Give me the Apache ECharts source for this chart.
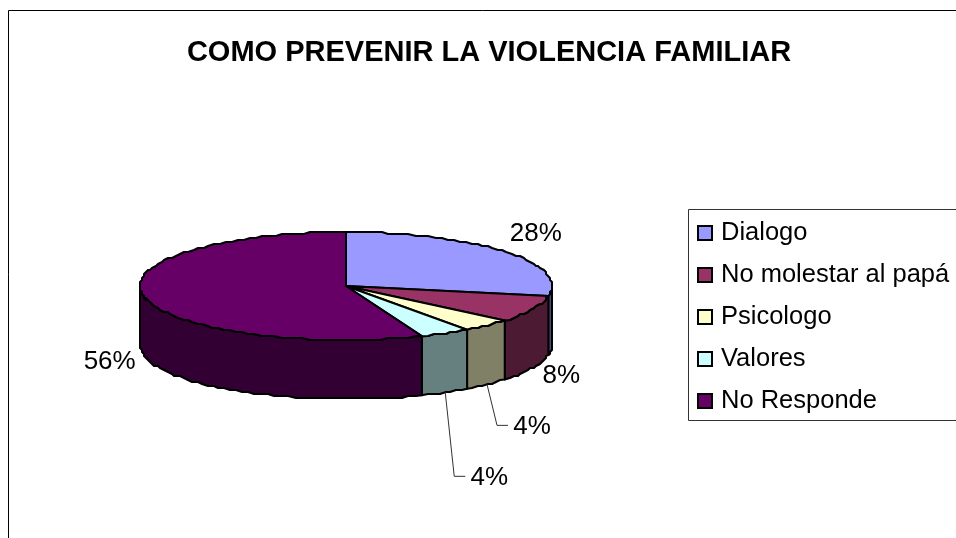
<!DOCTYPE html>
<html><head><meta charset="utf-8">
<style>html,body{margin:0;padding:0;background:#fff}#c{width:956px;height:538px}</style>
<script src="https://cdn.jsdelivr.net/npm/echarts@6/dist/echarts.min.js"></script>
</head><body><div id="c"></div>
<script>
const titleText = 'COMO PREVENIR LA VIOLENCIA FAMILIAR';
const categories = ['Dialogo', 'No molestar al papá', 'Psicologo', 'Valores', 'No Responde'];
const values = [28, 8, 4, 4, 56];
const topColors = ['#9999FF', '#993366', '#FFFFCC', '#CCFFFF', '#660066'];
const sideColors = ['#4D4D80', '#4D1A33', '#808066', '#668080', '#330033'];
const labelOffsets = [[31, -19], [29, 6], [26, 41], [25, 84], [-34, 5]];
const leaderSlices = [false, false, true, true, false];

const PIE = {cx: 346, cy: 286, rx: 206, ry: 54, depth: 59};
const FONT = '"Liberation Sans", Arial, sans-serif';
const GRID = 2;
const total = values.reduce((a, b) => a + b, 0);

function pt(deg, dy) {
  const r = deg * Math.PI / 180;
  return [PIE.cx + PIE.rx * Math.sin(r), PIE.cy - PIE.ry * Math.cos(r) + (dy || 0)];
}
function snap(p) {
  return [Math.round(p[0] / GRID) * GRID, Math.round(p[1] / GRID) * GRID];
}
function arc(a0, a1, dy) {
  const n = Math.max(2, Math.ceil(Math.abs(a1 - a0) / 2));
  const out = [];
  for (let i = 0; i <= n; i++) {
    const p = pt(a0 + (a1 - a0) * i / n, dy);
    out.push(i === 0 || i === n ? p : snap(p));
  }
  return out;
}
function renderSlice(index) {
  return function (params, api) {
    const a0 = api.value(0) / total * 360;
    const a1 = a0 + api.value(1) / total * 360;
    const mid = (a0 + a1) / 2;
    const children = [];
    const s0 = Math.max(a0, 90), s1 = Math.min(a1, 270);
    const stroke = {stroke: '#000', lineWidth: 2, lineJoin: 'round'};
    if (s1 > s0) {
      children.push({type: 'polygon', shape: {points: arc(s0, s1, 0).concat(arc(s1, s0, PIE.depth))},
        style: Object.assign({fill: sideColors[index]}, stroke)});
    }
    children.push({type: 'polygon', shape: {points: [[PIE.cx, PIE.cy]].concat(arc(a0, a1, 0))},
      style: Object.assign({fill: topColors[index]}, stroke)});
    const onSide = mid > 90 && mid < 270;
    const anchor = pt(mid, onSide ? PIE.depth : 0);
    const off = labelOffsets[index];
    const lx = anchor[0] + off[0], ly = anchor[1] + off[1];
    const textStyle = {y: ly + 1.5, text: api.value(1) + '%', fill: '#000',
      font: '26px ' + FONT, align: 'center', verticalAlign: 'middle'};
    if (leaderSlices[index]) {
      children.push({type: 'polyline', shape: {points: [anchor, [lx - 16, ly], [lx - 5, ly]]},
        style: {stroke: '#333', lineWidth: 1, fill: null}});
      children.push({type: 'text', style: Object.assign({x: lx + 19}, textStyle)});
    } else {
      children.push({type: 'text', style: Object.assign({x: lx}, textStyle)});
    }
    return {type: 'group', children};
  };
}
let acc = 0;
const series = categories.map((name, i) => {
  const start = acc; acc += values[i];
  return {type: 'custom', name, coordinateSystem: 'none', silent: true, animation: false, z: 2 + i,
    itemStyle: {color: topColors[i]}, renderItem: renderSlice(i), data: [[start, values[i]]]};
});
const chart = echarts.init(document.getElementById('c'), null, {renderer: 'canvas'});
chart.setOption({
  backgroundColor: '#fff', animation: false,
  title: {text: titleText, left: 484, top: 33, textAlign: 'center',
    textStyle: {fontFamily: FONT, fontSize: 29, fontWeight: 'bold', color: '#000'}},
  legend: {left: 692, top: 215, orient: 'vertical', icon: 'rect', itemWidth: 14, itemHeight: 14, itemGap: 16,
    selectedMode: false, align: 'left', data: categories,
    itemStyle: {borderColor: '#000', borderWidth: 2},
    textStyle: {fontFamily: FONT, fontSize: 25.5, color: '#000', padding: [0, 0, 0, 4]}},
  graphic: [
    {type: 'rect', shape: {x: 8.5, y: 10.5, width: 1000, height: 600}, z: -1,
      style: {fill: '#fff', stroke: '#000', lineWidth: 1}},
    {type: 'rect', shape: {x: 688.5, y: 209.5, width: 400, height: 211}, z: 0,
      style: {fill: '#fff', stroke: '#333', lineWidth: 1}}
  ],
  series
});
</script></body></html>
